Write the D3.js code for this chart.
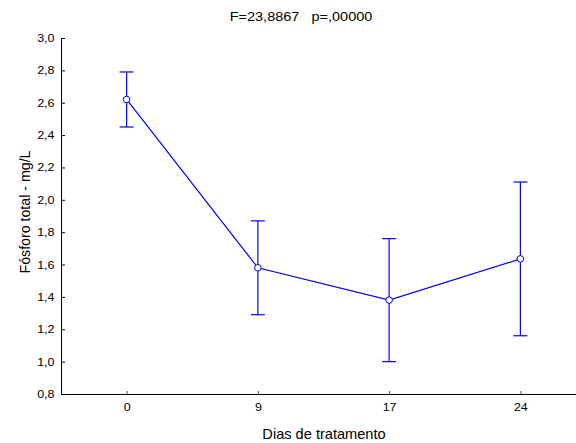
<!DOCTYPE html>
<html>
<head>
<meta charset="utf-8">
<script src="https://cdn.jsdelivr.net/npm/d3@7"></script>
<style>
  html, body { margin: 0; padding: 0; background: #fff; }
  svg { display: block; font-family: "Liberation Sans", Arial, sans-serif; }
</style>
</head>
<body>
<svg id="chart" width="576" height="443"></svg>
<script>
// Days of treatment and total phosphorus (mean with interval bounds)
const days = ["0", "9", "17", "24"];
const means = [2.62, 1.58, 1.38, 1.635];
const upper = [2.79, 1.87, 1.76, 2.11];
const lower = [2.45, 1.29, 1.00, 1.16];
const yTicks = [0.8, 1.0, 1.2, 1.4, 1.6, 1.8, 2.0, 2.2, 2.4, 2.6, 2.8, 3.0];
const title = "F=23,8867   p=,00000";

const svg = d3.select("#chart");
const plotLeft = 61, plotRight = 586, plotTop = 38, plotBottom = 394;
const blue = "#0000ff";
const wide = 1.17; // horizontal stretch of the small labels

const x = d3.scalePoint().domain(days).range([plotLeft, plotRight]).padding(0.5);
const y = d3.scaleLinear().domain([0.8, 3.0]).range([plotBottom, plotTop]);
const fmt = v => d3.format(".1f")(v).replace(".", ",");

// Title
svg.append("text")
  .attr("transform", `translate(301,20.5) scale(${wide},1)`)
  .attr("text-anchor", "middle")
  .attr("font-size", 12.4)
  .attr("xml:space", "preserve")
  .text(title);

// Y axis with inward ticks
const yAxis = svg.append("g")
  .attr("transform", `translate(${plotLeft},0)`)
  .call(d3.axisLeft(y).tickValues(yTicks).tickFormat(fmt).tickSizeInner(-4).tickSizeOuter(0).tickPadding(6));
yAxis.select(".domain").attr("stroke", "#000");
yAxis.selectAll(".tick line").attr("stroke", "#000");
yAxis.selectAll(".tick text")
  .attr("font-size", 10.7).attr("fill", "#000")
  .attr("x", -6.5 / wide).attr("dy", "0.33em")
  .attr("transform", `scale(${wide},1)`);

// X axis
const xAxis = svg.append("g")
  .attr("transform", `translate(0,${plotBottom})`)
  .call(d3.axisBottom(x).tickSizeInner(-3).tickSizeOuter(0).tickPadding(9));
xAxis.select(".domain").attr("d", `M${plotLeft},0.5H576`).attr("stroke", "#000");
xAxis.selectAll(".tick line").attr("stroke", "#555");
xAxis.selectAll(".tick text")
  .attr("font-size", 10.7).attr("fill", "#000")
  .attr("transform", `scale(${wide},1)`);

// Axis titles
svg.append("text")
  .attr("x", 324).attr("y", 439)
  .attr("text-anchor", "middle")
  .attr("font-size", 14.6)
  .text("Dias de tratamento");
svg.append("text")
  .attr("transform", "translate(30,212) rotate(-90)")
  .attr("text-anchor", "middle")
  .attr("font-size", 14.2)
  .text("Fósforo total - mg/L");

// Connecting line through means
const pts = days.map((d, i) => ({ d, m: means[i], hi: upper[i], lo: lower[i] }));
svg.append("path")
  .datum(pts)
  .attr("fill", "none")
  .attr("stroke", blue)
  .attr("stroke-width", 1.2)
  .attr("d", d3.line().x(p => x(p.d)).y(p => y(p.m)));

// Error bars with caps
const eb = svg.append("g").attr("stroke", blue).attr("stroke-width", 1.2);
eb.selectAll("line.v").data(pts).join("line").attr("class", "v")
  .attr("x1", p => x(p.d)).attr("x2", p => x(p.d))
  .attr("y1", p => y(p.hi)).attr("y2", p => y(p.lo));
eb.selectAll("line.t").data(pts).join("line").attr("class", "t")
  .attr("x1", p => x(p.d) - 7).attr("x2", p => x(p.d) + 7)
  .attr("y1", p => y(p.hi)).attr("y2", p => y(p.hi));
eb.selectAll("line.b").data(pts).join("line").attr("class", "b")
  .attr("x1", p => x(p.d) - 7).attr("x2", p => x(p.d) + 7)
  .attr("y1", p => y(p.lo)).attr("y2", p => y(p.lo));

// Mean markers
svg.append("g").selectAll("circle").data(pts).join("circle")
  .attr("cx", p => x(p.d)).attr("cy", p => y(p.m))
  .attr("r", 3.3)
  .attr("fill", "#fff")
  .attr("stroke", blue)
  .attr("stroke-width", 1);
</script>
</body>
</html>
